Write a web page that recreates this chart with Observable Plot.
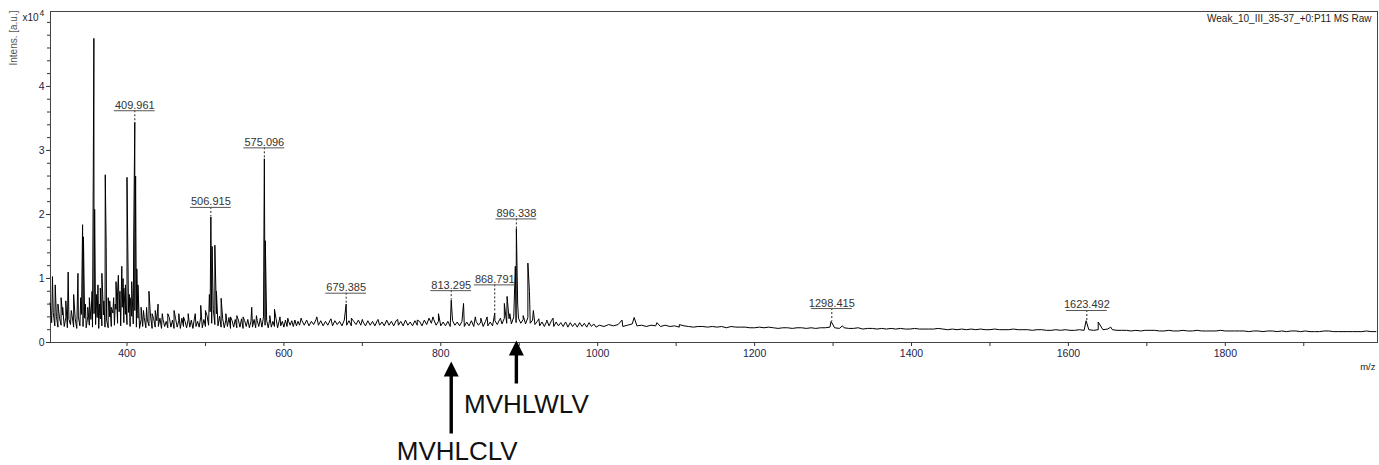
<!DOCTYPE html>
<html>
<head>
<meta charset="utf-8">
<script src="https://cdn.jsdelivr.net/npm/d3@7"></script>
<script src="https://cdn.jsdelivr.net/npm/@observablehq/plot@0.6"></script>
<style>
  html, body { margin: 0; padding: 0; background: #fff; }
  #chart svg { display: block; }
</style>
</head>
<body>
<div id="chart"></div>
<script>
// ---------- data (intensity in units of 10^4 a.u.) ----------
const title = "Weak_10_III_35-37_+0:P11 MS Raw";
const yLabel = "Intens. [a.u.]";
const xLabel = "m/z";

// baseline noise, segment A: m/z 302..620 every 2
const noiseAStart = 302, noiseAStep = 2;
const noiseA = [
  0.62,0.31,0.47,0.26,0.41,0.24,0.38,0.27,0.43,0.25,
  0.39,0.23,0.36,0.28,0.42,0.24,0.37,0.22,0.40,0.26,
  0.44,0.25,0.38,0.23,0.41,0.27,0.36,0.24,0.45,0.28,
  0.39,0.22,0.37,0.26,0.43,0.24,0.35,0.23,0.40,0.25,
  0.46,0.27,0.52,0.30,0.48,0.26,0.55,0.31,0.44,0.28,
  0.47,0.25,0.41,0.29,0.50,0.24,0.38,0.22,0.36,0.25,
  0.39,0.23,0.35,0.26,0.41,0.22,0.37,0.24,0.34,0.25,
  0.38,0.22,0.36,0.25,0.33,0.23,0.39,0.24,0.35,0.22,
  0.37,0.24,0.34,0.22,0.38,0.25,0.33,0.23,0.36,0.24,
  0.35,0.22,0.38,0.25,0.33,0.24,0.40,0.23,0.36,0.25,
  0.42,0.27,0.48,0.30,0.52,0.28,0.45,0.26,0.41,0.24,
  0.37,0.23,0.35,0.25,0.39,0.22,0.34,0.24,0.36,0.23,
  0.35,0.24,0.37,0.22,0.34,0.25,0.36,0.23,0.33,0.24,
  0.36,0.23,0.34,0.25,0.38,0.24,0.40,0.27,0.35,0.23,
  0.36,0.24,0.33,0.25,0.37,0.23,0.34,0.26,0.33,0.24,
  0.35,0.25,0.33,0.27,0.34,0.25,0.35,0.26,0.33,0.27
];
// segment B: m/z 623..998 every 3
const noiseBStart = 623, noiseBStep = 3;
const noiseB = [
  0.34,0.27,0.35,0.26,0.33,0.28,0.36,0.27,0.34,0.26,
  0.33,0.27,0.35,0.26,0.34,0.28,0.33,0.26,0.35,0.27,
  0.34,0.26,0.33,0.28,0.35,0.27,0.32,0.26,0.34,0.27,
  0.33,0.26,0.34,0.27,0.32,0.26,0.35,0.27,0.33,0.26,
  0.34,0.27,0.33,0.26,0.35,0.27,0.32,0.26,0.34,0.27,
  0.33,0.26,0.35,0.28,0.38,0.30,0.36,0.27,0.33,0.26,
  0.32,0.26,0.33,0.25,0.34,0.27,0.32,0.26,0.33,0.25,
  0.32,0.26,0.34,0.25,0.33,0.27,0.32,0.25,0.33,0.26,
  0.32,0.26,0.34,0.28,0.36,0.29,0.38,0.30,0.37,0.29,
  0.40,0.31,0.38,0.30,0.36,0.29,0.39,0.30,0.35,0.28,
  0.33,0.26,0.32,0.25,0.33,0.26,0.34,0.25,0.32,0.26,
  0.31,0.25,0.32,0.24,0.31,0.25,0.30,0.24,0.31,0.25,
  0.30,0.24,0.31,0.25,0.29,0.24
];
// segment C: m/z 1002..1992 every 6
const noiseCStart = 1002, noiseCStep = 6;
const noiseC = [
  0.27,0.25,0.28,0.26,0.28,0.25,0.27,0.29,0.26,0.27,
  0.25,0.27,0.26,0.25,0.27,0.25,0.26,0.24,0.26,0.25,
  0.24,0.25,0.25,0.24,0.25,0.24,0.25,0.23,0.25,0.24,
  0.24,0.24,0.23,0.23,0.24,0.23,0.24,0.23,0.22,0.23,
  0.23,0.22,0.23,0.23,0.22,0.23,0.22,0.23,0.23,0.24,
  0.23,0.22,0.23,0.22,0.22,0.23,0.21,0.22,0.22,0.21,
  0.22,0.21,0.22,0.21,0.22,0.21,0.21,0.22,0.21,0.21,
  0.21,0.21,0.22,0.21,0.20,0.21,0.20,0.21,0.20,0.21,
  0.20,0.21,0.20,0.20,0.21,0.20,0.20,0.20,0.21,0.20,
  0.20,0.20,0.19,0.20,0.20,0.19,0.19,0.20,0.19,0.20,
  0.19,0.19,0.20,0.19,0.20,0.19,0.20,0.20,0.21,0.20,
  0.19,0.19,0.19,0.18,0.19,0.18,0.19,0.19,0.19,0.18,
  0.18,0.19,0.18,0.18,0.19,0.18,0.18,0.19,0.18,0.18,
  0.18,0.18,0.19,0.18,0.18,0.18,0.18,0.18,0.17,0.18,
  0.18,0.17,0.18,0.18,0.17,0.18,0.17,0.18,0.18,0.17,
  0.18,0.17,0.17,0.17,0.18,0.18,0.17,0.17,0.17,0.17,
  0.17,0.17,0.17,0.18,0.17,0.17
];

// peaks [m/z, intensity]
const peaks = [
  [305,1.03],[308.5,0.90],[312,0.60],[316,0.70],[318,0.55],[322,0.65],[325,1.10],[329,0.50],[332,0.75],
  [337.5,1.08],[341,0.70],[343.4,1.84],[344.5,1.65],[347,0.60],[350,0.55],[352,0.70],[355.5,0.80],
  [357,2.57],[357.8,4.75],[358.8,2.08],[361,0.75],[363,0.90],[365,0.60],[366,0.85],[368,1.08],[370.5,0.65],
  [372.3,2.62],[373.5,1.50],[376,0.70],[378,0.65],[380,0.55],[383,0.70],[385,0.60],[386,0.95],[388,0.80],
  [389,1.05],[391,0.80],[393.4,1.19],[395,1.00],[396,0.85],[398,0.90],[400,2.58],[401.5,1.00],[403,0.75],
  [404,0.70],[406,0.95],[408.5,1.60],[409.961,3.44],[411,2.60],[412.5,1.15],[414,0.90],[418,0.55],[421,0.50],
  [425,0.55],[428,0.80],[432,0.45],[436,0.50],[439.6,0.60],[445,0.45],[452,0.45],[460,0.50],[466,0.45],
  [472,0.40],[478,0.45],[487,0.45],[494,0.58],[500,0.50],[505,0.75],[506.915,1.96],[508.5,1.50],[512,1.52],
  [514,0.80],[520,0.69],[526,0.45],[532,0.40],[540,0.42],[548,0.40],[559,0.55],
  [565,0.42],[574.3,1.12],[575.096,2.87],[576.3,1.59],[582,0.42],[588,0.52],[595,0.40],
  [605,0.38],[622,0.38],[642,0.40],[660,0.37],[679.385,0.60],[686,0.38],[700,0.36],
  [720,0.36],[745,0.36],[770,0.35],[790,0.40],[797,0.45],[813.295,0.66],[829,0.61],
  [844,0.40],[851,0.38],[859,0.40],[868.791,0.46],[876,0.38],[881,0.61],[884.5,0.72],
  [888,0.45],[895,1.19],[896.338,1.78],[898,0.60],[905,0.42],[911,1.24],[913,0.80],
  [918,0.50],[925,0.37],[935,0.35],[943,0.38],[960,0.30],[1031,0.35],[1046.5,0.39],
  [1075.5,0.31],[1104,0.28],[1297.5,0.33],[1312,0.26],[1622.6,0.34],[1638,0.32],[1654,0.24]
];

// labelled peaks
const labelMz   = [409.961, 506.915, 575.096, 679.385, 813.295, 868.791, 896.338, 1298.415, 1623.492];
const labelText = ["409.961","506.915","575.096","679.385","813.295","868.791","896.338","1298.415","1623.492"];
const labelTop  = [3.44, 1.96, 2.87, 0.60, 0.66, 0.46, 1.78, 0.33, 0.34];   // peak apex
const labelLine = [3.62, 2.11, 3.04, 0.77, 0.81, 0.90, 1.93, 0.53, 0.50];   // underline level

// annotations below the axis
const arrowMz = [813.295, 896.338];
const arrowText = ["MVHLCLV", "MVHLWLV"];

// axis ticks
const xTicks = [400, 600, 800, 1000, 1200, 1400, 1600, 1800];
const xMinor = [500, 700, 900, 1100, 1300, 1500, 1700, 1900];
const yTicks = [0, 1, 2, 3, 4];
const yMinor = [0.2,0.4,0.6,0.8,1.2,1.4,1.6,1.8,2.2,2.4,2.6,2.8,3.2,3.4,3.6,3.8,4.2,4.4,4.6,4.8,5.0];

// ---------- build tables ----------
const trace = [];
noiseA.forEach((v, i) => trace.push({mz: noiseAStart + i * noiseAStep, v}));
noiseB.forEach((v, i) => trace.push({mz: noiseBStart + i * noiseBStep, v}));
noiseC.forEach((v, i) => trace.push({mz: noiseCStart + i * noiseCStep, v}));
peaks.forEach(([mz, v]) => trace.push({mz, v}));
trace.sort((a, b) => a.mz - b.mz);

const labels = labelMz.map((mz, i) => ({mz, text: labelText[i], top: labelTop[i], ly: labelLine[i]}));

function arrowSymbol(len) {
  return {
    draw(ctx) {
      ctx.moveTo(0, 0);
      ctx.lineTo(7.5, 15);
      ctx.lineTo(1.7, 15);
      ctx.lineTo(1.7, len);
      ctx.lineTo(-1.7, len);
      ctx.lineTo(-1.7, 15);
      ctx.lineTo(-7.5, 15);
      ctx.closePath();
    }
  };
}

const tickInk = "#333";
const labelInk = "#24244a";
const plain = d => String(d);

const chart = Plot.plot({
  width: 1379,
  height: 465,
  marginLeft: 50,
  marginRight: 2,
  marginTop: 11,
  marginBottom: 123,
  style: {fontFamily: "'Liberation Sans', Arial, sans-serif", fontSize: "10.5px", background: "#fff", color: "#222"},
  x: {domain: [302.5, 1994], label: null},
  y: {domain: [0, 5.17], label: null},
  marks: [
    // axes
    Plot.axisX({ticks: xMinor, tickSize: 4, tickFormat: () => "", stroke: tickInk, label: null}),
    Plot.axisX({ticks: xTicks, tickSize: 4, tickPadding: 3, tickFormat: plain, stroke: tickInk, fill: labelInk, fontSize: 10.5, label: null}),
    Plot.axisY({ticks: yMinor, tickSize: 3, tickFormat: () => "", stroke: tickInk, label: null}),
    Plot.axisY({ticks: yTicks, tickSize: 4, tickPadding: 2, tickFormat: plain, stroke: tickInk, fill: labelInk, fontSize: 10.5, label: null}),
    Plot.frame({stroke: "#444"}),

    // spectrum
    Plot.line(trace, {x: "mz", y: "v", stroke: "#000", strokeWidth: 1}),

    // peak labels
    Plot.ruleX(labels, {x: "mz", y1: "ly", y2: "top", stroke: "#222", strokeDasharray: "2,2"}),
    Plot.ruleY(labels, {y: "ly", x1: d => d.mz - 26, x2: d => d.mz + 26, stroke: "#555"}),
    Plot.text(labels, {x: "mz", y: "ly", text: "text", dy: -2, lineAnchor: "bottom", fontSize: 11, fill: "#333"}),

    // header texts
    Plot.text([title], {text: d => d, frameAnchor: "top-right", dx: -6, dy: 10, textAnchor: "end", lineAnchor: "bottom", fontSize: 10, fill: "#222"}),
    Plot.text([yLabel], {text: d => d, frameAnchor: "top-left", dx: -37, dy: -1, rotate: -90, textAnchor: "end", lineAnchor: "middle", fontSize: 10, fill: "#555"}),
    Plot.text(["x10"], {text: d => d, frameAnchor: "top-left", dx: -28, dy: 9, textAnchor: "start", lineAnchor: "bottom", fontSize: 10, fill: "#222"}),
    Plot.text(["4"], {text: d => d, frameAnchor: "top-left", dx: -11, dy: 4, textAnchor: "start", lineAnchor: "bottom", fontSize: 8.5, fill: "#222"}),
    Plot.text([xLabel], {text: d => d, frameAnchor: "bottom-right", dx: -2, dy: 27, textAnchor: "end", lineAnchor: "bottom", fontSize: 9.5, fill: "#222"}),

    // arrows and peptide names
    Plot.dot([arrowMz[0]], {x: d => d, y: 0, dy: 19, symbol: arrowSymbol(72), fill: "#000", stroke: "none"}),
    Plot.dot([arrowMz[1]], {x: d => d, y: 0, dy: -2, symbol: arrowSymbol(43), fill: "#000", stroke: "none"}),
    Plot.text([0], {x: () => arrowMz[0], y: 0, text: () => arrowText[0], dx: 6, dy: 117, lineAnchor: "bottom", fontSize: 26, fill: "#111"}),
    Plot.text([1], {x: () => arrowMz[1], y: 0, text: () => arrowText[1], dx: 10, dy: 70, lineAnchor: "bottom", fontSize: 26, fill: "#111"})
  ]
});

document.getElementById("chart").appendChild(chart);
</script>
</body>
</html>
